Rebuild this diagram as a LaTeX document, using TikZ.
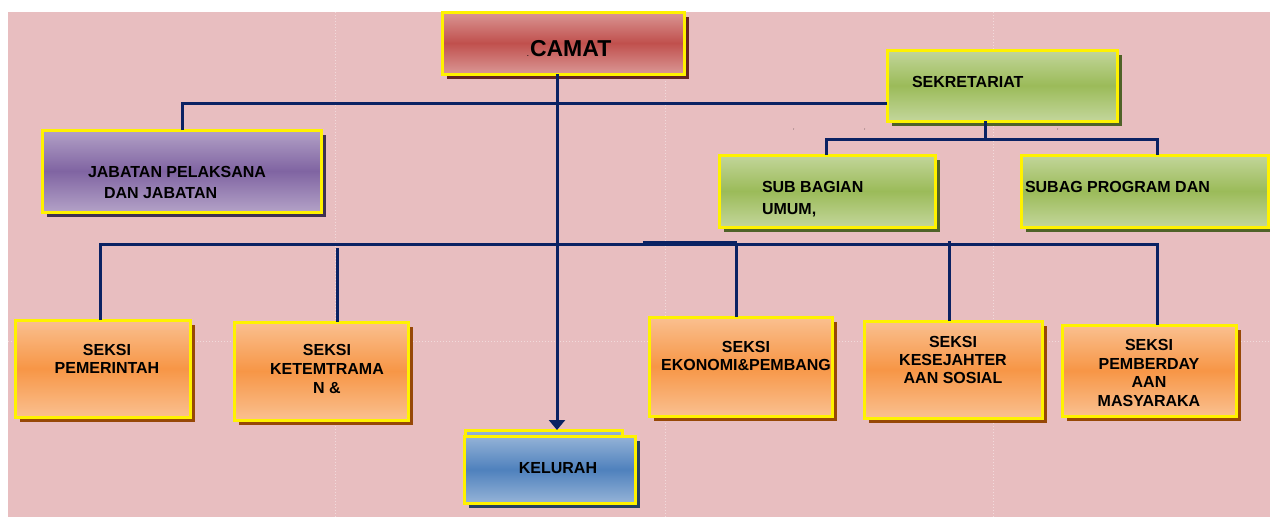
\documentclass[tikz,border=0pt]{standalone}
\usepackage{fontspec}
\setmainfont{Liberation Sans}
\usetikzlibrary{shadows,arrows.meta}
\definecolor{bgpink}{HTML}{E8BEC0}
\definecolor{navyline}{HTML}{0A2263}
\definecolor{redL}{HTML}{DA9795}
\definecolor{redM}{HTML}{C0504D}
\definecolor{redS}{HTML}{632423}
\definecolor{purL}{HTML}{B3A2C7}
\definecolor{purM}{HTML}{8064A2}
\definecolor{purS}{HTML}{3F3151}
\definecolor{grnL}{HTML}{C3D69B}
\definecolor{grnM}{HTML}{9BBB59}
\definecolor{grnS}{HTML}{4F6228}
\definecolor{orgL}{HTML}{FAC090}
\definecolor{orgM}{HTML}{F79646}
\definecolor{orgS}{HTML}{974806}
\definecolor{bluL}{HTML}{95B3D7}
\definecolor{bluM}{HTML}{4F81BD}
\definecolor{bluS}{HTML}{244061}
\begin{document}
\begin{tikzpicture}[x=1pt,y=-1pt,
  box/.style={draw=yellow, line width=3pt, inner sep=0pt, outer sep=0pt, anchor=north west},
  shadowof/.style={drop shadow={shadow xshift=5pt, shadow yshift=-5pt, fill=#1, opacity=1}},
  redbox/.style={box, shadowof=redS, top color=redL, bottom color=redL, middle color=redM},
  purbox/.style={box, shadowof=purS, top color=purL, bottom color=purL, middle color=purM},
  grnbox/.style={box, shadowof=grnS, top color=grnL, bottom color=grnL, middle color=grnM},
  orgbox/.style={box, shadowof=orgS, top color=orgL, bottom color=orgL, middle color=orgM},
  blubox/.style={box, shadowof=bluS, top color=bluL, bottom color=bluL, middle color=bluM},
  lbl/.style={inner sep=0pt, outer sep=0pt, text depth=0pt, font=\bfseries\fontsize{16}{18.5}\selectfont},
  conn/.style={draw=navyline, line width=3pt},
  arr/.style={conn, -{Triangle[width=16pt,length=10pt]}},
  seam/.style={draw=white, opacity=0.45, line width=1pt, dotted}
]
\useasboundingbox (0,0) rectangle (1270,517);
\fill[white] (0,0) rectangle (1270,517);
\fill[bgpink] (8,12) rectangle (1270,517);
% faint tile seams of the background
\draw[seam] (335,12) -- (335,517);
\draw[seam] (665,12) -- (665,517);
\draw[seam] (993,12) -- (993,517);
\draw[seam] (8,341) -- (1270,341);

% coordinates for connectors
\coordinate (cx) at (557,0);
\coordinate (jl) at (182,103);
\coordinate (s1) at (826,139);
\coordinate (s2) at (1157,139);
\coordinate (s3) at (985,139);
\coordinate (b1) at (100,244);
\coordinate (b2) at (1157,244);
\coordinate (k1) at (337,248);
\coordinate (e1) at (736,244);
\coordinate (w1) at (949,241);
\coordinate (t1) at (643,243);
\coordinate (t2) at (737,243);

% boxes
\node[redbox, minimum width=242pt, minimum height=62pt] (camat) at (442,12) {};
\node[grnbox, minimum width=230pt, minimum height=71pt] (sek) at (887,50) {};
\node[purbox, minimum width=279pt, minimum height=82pt] (jab) at (42,130) {};
\node[grnbox, minimum width=216pt, minimum height=72pt] (sub) at (719,155) {};
\node[grnbox, minimum width=247pt, minimum height=72pt] (subag) at (1021,155) {};
\node[orgbox, minimum width=175pt, minimum height=97pt] (pem) at (15,320) {};
\node[orgbox, minimum width=174pt, minimum height=98pt] (ket) at (234,322) {};
\node[orgbox, minimum width=183pt, minimum height=99pt] (eko) at (649,317) {};
\node[orgbox, minimum width=178pt, minimum height=97pt] (kes) at (864,321) {};
\node[orgbox, minimum width=174pt, minimum height=91pt] (pmb) at (1062,325) {};
\node[blubox, minimum width=157pt, minimum height=60pt] (kelb) at (465,430) {};
\node[blubox, minimum width=171pt, minimum height=67pt] (kel) at (464,436) {};

% texts
\node[inner sep=0pt, font=\bfseries\fontsize{6}{6}\selectfont, anchor=base] (cdot) at (528,56) {.};
\node[lbl, anchor=west, font=\bfseries\fontsize{23}{23}\selectfont] (tcamat) at (530,48) {CAMAT};
\node[lbl, anchor=west] (tsek) at (912,82) {SEKRETARIAT};
\node[lbl, anchor=west, align=left, font=\bfseries\fontsize{16}{21}\selectfont] (tjab) at (88,182.5) {JABATAN PELAKSANA\\\hspace*{16pt}DAN JABATAN};
\node[lbl, anchor=west, align=left, font=\bfseries\fontsize{16}{22}\selectfont] (tsub) at (762,198) {SUB BAGIAN\\UMUM,};
\node[lbl, anchor=west] (tsubag) at (1025,187) {SUBAG PROGRAM DAN};
\node[lbl, align=center, font=\bfseries\fontsize{16}{18}\selectfont] (tpem) at (107,358.5) {SEKSI\\PEMERINTAH};
\node[lbl, align=center, font=\bfseries\fontsize{16}{19}\selectfont] (tket) at (327,369) {SEKSI\\KETEMTRAMA\\N \&};
\node[lbl, align=center, font=\bfseries\fontsize{16}{18}\selectfont] (teko) at (746,356) {SEKSI\\EKONOMI\&PEMBANG};
\node[lbl, align=center, font=\bfseries\fontsize{16}{18}\selectfont] (tkes) at (953,360) {SEKSI\\KESEJAHTER\\AAN SOSIAL};
\node[lbl, align=center, font=\bfseries\fontsize{16}{18.7}\selectfont] (tpmb) at (1149,373) {SEKSI\\PEMBERDAY\\AAN\\MASYARAKA};
\node[lbl, anchor=center] (tkel) at (558,468) {KELURAH};

% stray marks
\node[inner sep=0pt, font=\fontsize{5}{5}\selectfont] (m1) at (794,131) {'};
\node[inner sep=0pt, font=\fontsize{5}{5}\selectfont] (m2) at (865,131) {'};
\node[inner sep=0pt, font=\fontsize{5}{5}\selectfont] (m3) at (1058,131) {'};

% connectors
\draw[arr] (camat.south -| cx) -- (kelb.north -| cx);
\draw[conn] (jab.north -| jl) |- (sek.west |- jl);
\draw[conn] (sek.south -| s3) -- (s3);
\draw[conn] (sub.north -| s1) -- (s1) -- (s2) -- (subag.north -| s2);
\draw[conn] (pem.north -| b1) -- (b1) -- (b2) -- (pmb.north -| b2);
\draw[conn] (k1) -- (ket.north -| k1);
\draw[conn] (e1) -- (eko.north -| e1);
\draw[conn] (w1) -- (kes.north -| w1);
\draw[conn, line width=4.5pt] (t1) -- (t2);
\end{tikzpicture}
\end{document}
